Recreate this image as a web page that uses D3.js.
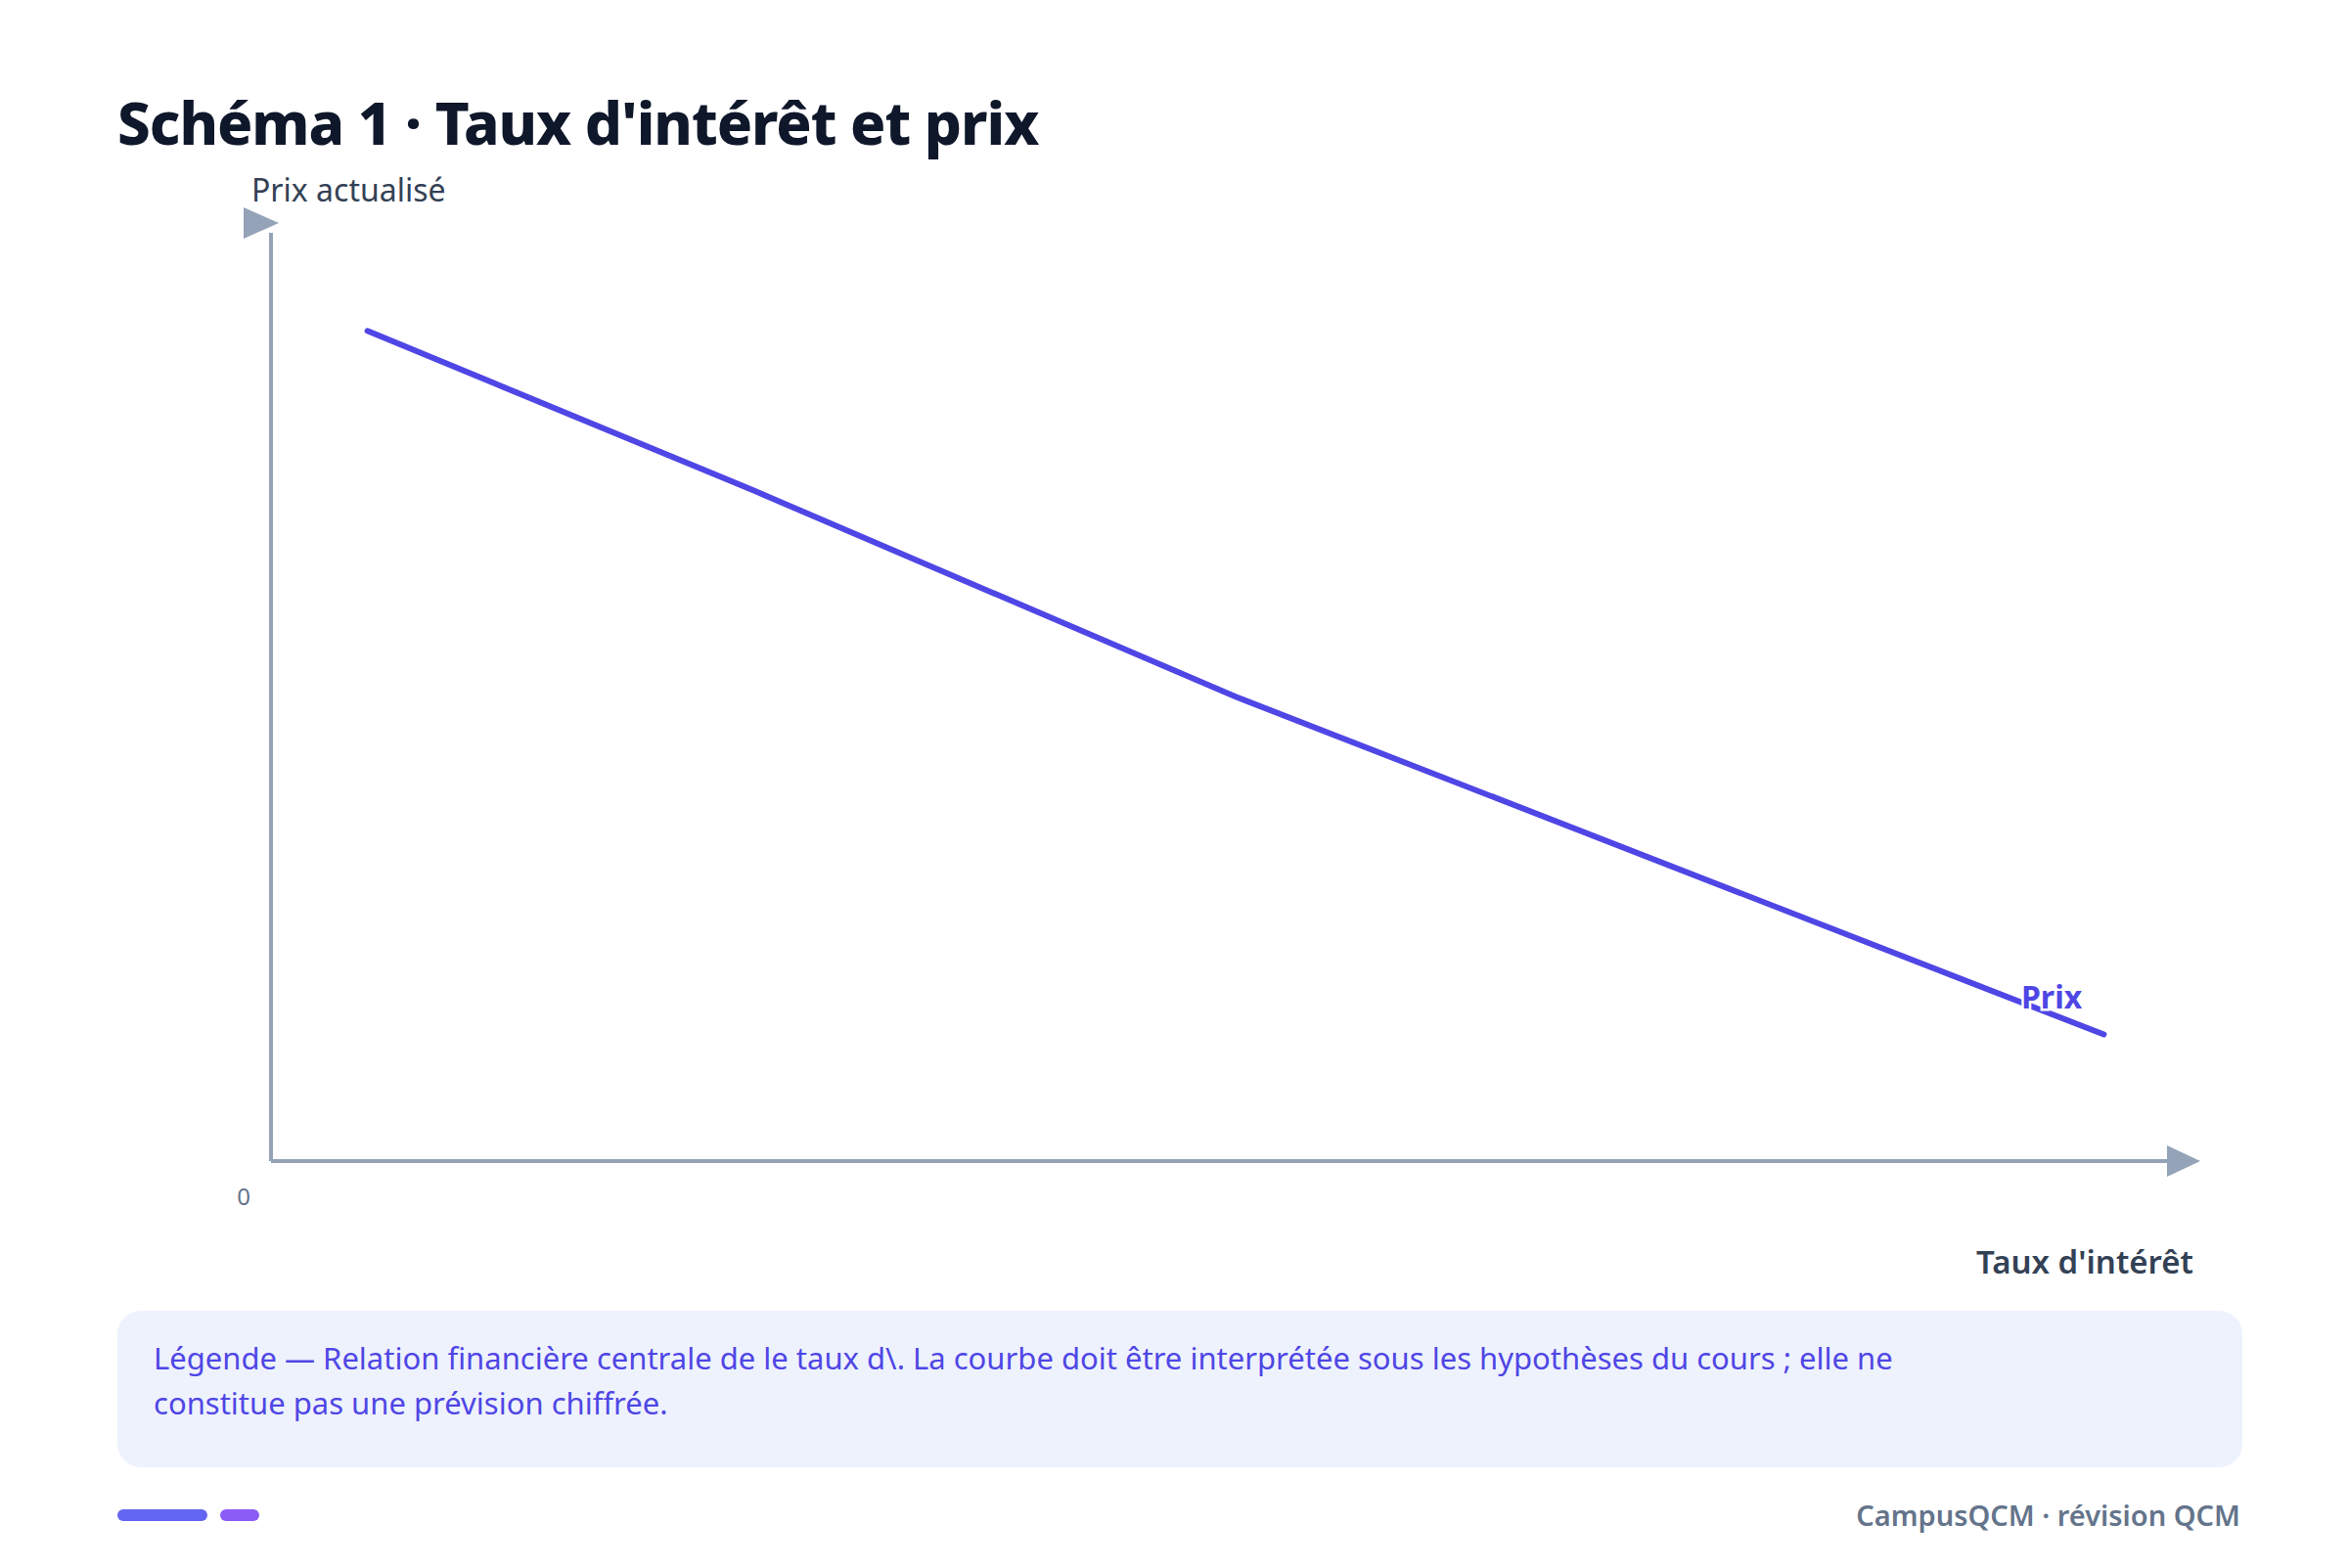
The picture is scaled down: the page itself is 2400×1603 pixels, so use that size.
<!DOCTYPE html>
<html>
<head>
<meta charset="utf-8">
<script src="https://cdn.jsdelivr.net/npm/d3@7"></script>
<style>
  body { margin: 0; background: #fff; }
  text { font-family: "Noto Sans", "Open Sans", sans-serif; }
</style>
</head>
<body>
<svg id="chart" width="2400" height="1603"></svg>
<script>
// taux d'intérêt (unités abstraites) et prix actualisé
const rates = [0.5, 2.5, 5.0, 9.5]
const prices = [8.85, 7.15, 4.95, 1.35]
const title = "Schéma 1 · Taux d'intérêt et prix"
const yLabel = "Prix actualisé"
const xLabel = "Taux d'intérêt"
const seriesName = "Prix"
const legendLines = [
    "Légende — Relation financière centrale de le taux d\\. La courbe doit être interprétée sous les hypothèses du cours ; elle ne",
    "constitue pas une prévision chiffrée."
]
const footer = "CampusQCM · révision QCM"

const svg = d3.select("#chart")
const x = d3.scaleLinear().domain([0, 10]).range([277, 2249])
const y = d3.scaleLinear().domain([0, 10]).range([1187, 228])
const axisColor = "#94a3b8"

svg.append("text").attr("x", 120).attr("y", 148)
    .attr("font-size", 60).attr("font-weight", 800).attr("fill", "#0f172a")
    .attr("letter-spacing", -1).text(title)

// axes
svg.append("line").attr("x1", x(0)).attr("x2", x(0)).attr("y1", y(0)).attr("y2", y(10) + 10)
    .attr("stroke", axisColor).attr("stroke-width", 4)
svg.append("line").attr("x1", x(0)).attr("x2", x(10) - 20).attr("y1", y(0)).attr("y2", y(0))
    .attr("stroke", axisColor).attr("stroke-width", 4)
svg.append("path")
    .attr("d", `M${x(0) - 28},${y(10) - 16} L${x(0) + 8},${y(10)} L${x(0) - 28},${y(10) + 16} Z`)
    .attr("fill", axisColor)
svg.append("path")
    .attr("d", `M${x(10) - 34},${y(0) - 16} L${x(10)},${y(0)} L${x(10) - 34},${y(0) + 16} Z`)
    .attr("fill", axisColor)

svg.append("text").attr("x", 257).attr("y", 206).attr("font-size", 32)
    .attr("fill", "#334155").text(yLabel)
svg.append("text").attr("x", 249).attr("y", 1232).attr("font-size", 24)
    .attr("text-anchor", "middle").attr("fill", "#64748b").text("0")
svg.append("text").attr("x", 2242).attr("y", 1302).attr("font-size", 33).attr("font-weight", 600)
    .attr("text-anchor", "end").attr("fill", "#334155").text(xLabel)

const line = d3.line().x((d, i) => x(rates[i])).y(d => y(d))
svg.append("path").datum(prices).attr("d", line)
    .attr("fill", "none").attr("stroke", "#4f46e5").attr("stroke-width", 6)
    .attr("stroke-linecap", "round").attr("stroke-linejoin", "round")

svg.append("text").attr("x", 2066).attr("y", 1031).attr("font-size", 32).attr("font-weight", 700)
    .attr("fill", "#4f46e5").attr("stroke", "#fff").attr("stroke-width", 5)
    .attr("paint-order", "stroke").text(seriesName)

// légende
svg.append("rect").attr("x", 120).attr("y", 1340).attr("width", 2172).attr("height", 160)
    .attr("rx", 24).attr("fill", "#eef2fd")
svg.selectAll(".leg").data(legendLines).join("text")
    .attr("x", 157).attr("y", (d, i) => 1400 + i * 46)
    .attr("font-size", 31).attr("fill", "#4f46e5").text(d => d)

// pied de page
svg.append("rect").attr("x", 120).attr("y", 1543).attr("width", 92).attr("height", 12)
    .attr("rx", 6).attr("fill", "#6366f1")
svg.append("rect").attr("x", 225).attr("y", 1543).attr("width", 40).attr("height", 12)
    .attr("rx", 6).attr("fill", "#8b5cf6")
svg.append("text").attr("x", 2290).attr("y", 1560).attr("font-size", 29).attr("font-weight", 600)
    .attr("text-anchor", "end").attr("fill", "#64748b").text(footer)
</script>
</body>
</html>
